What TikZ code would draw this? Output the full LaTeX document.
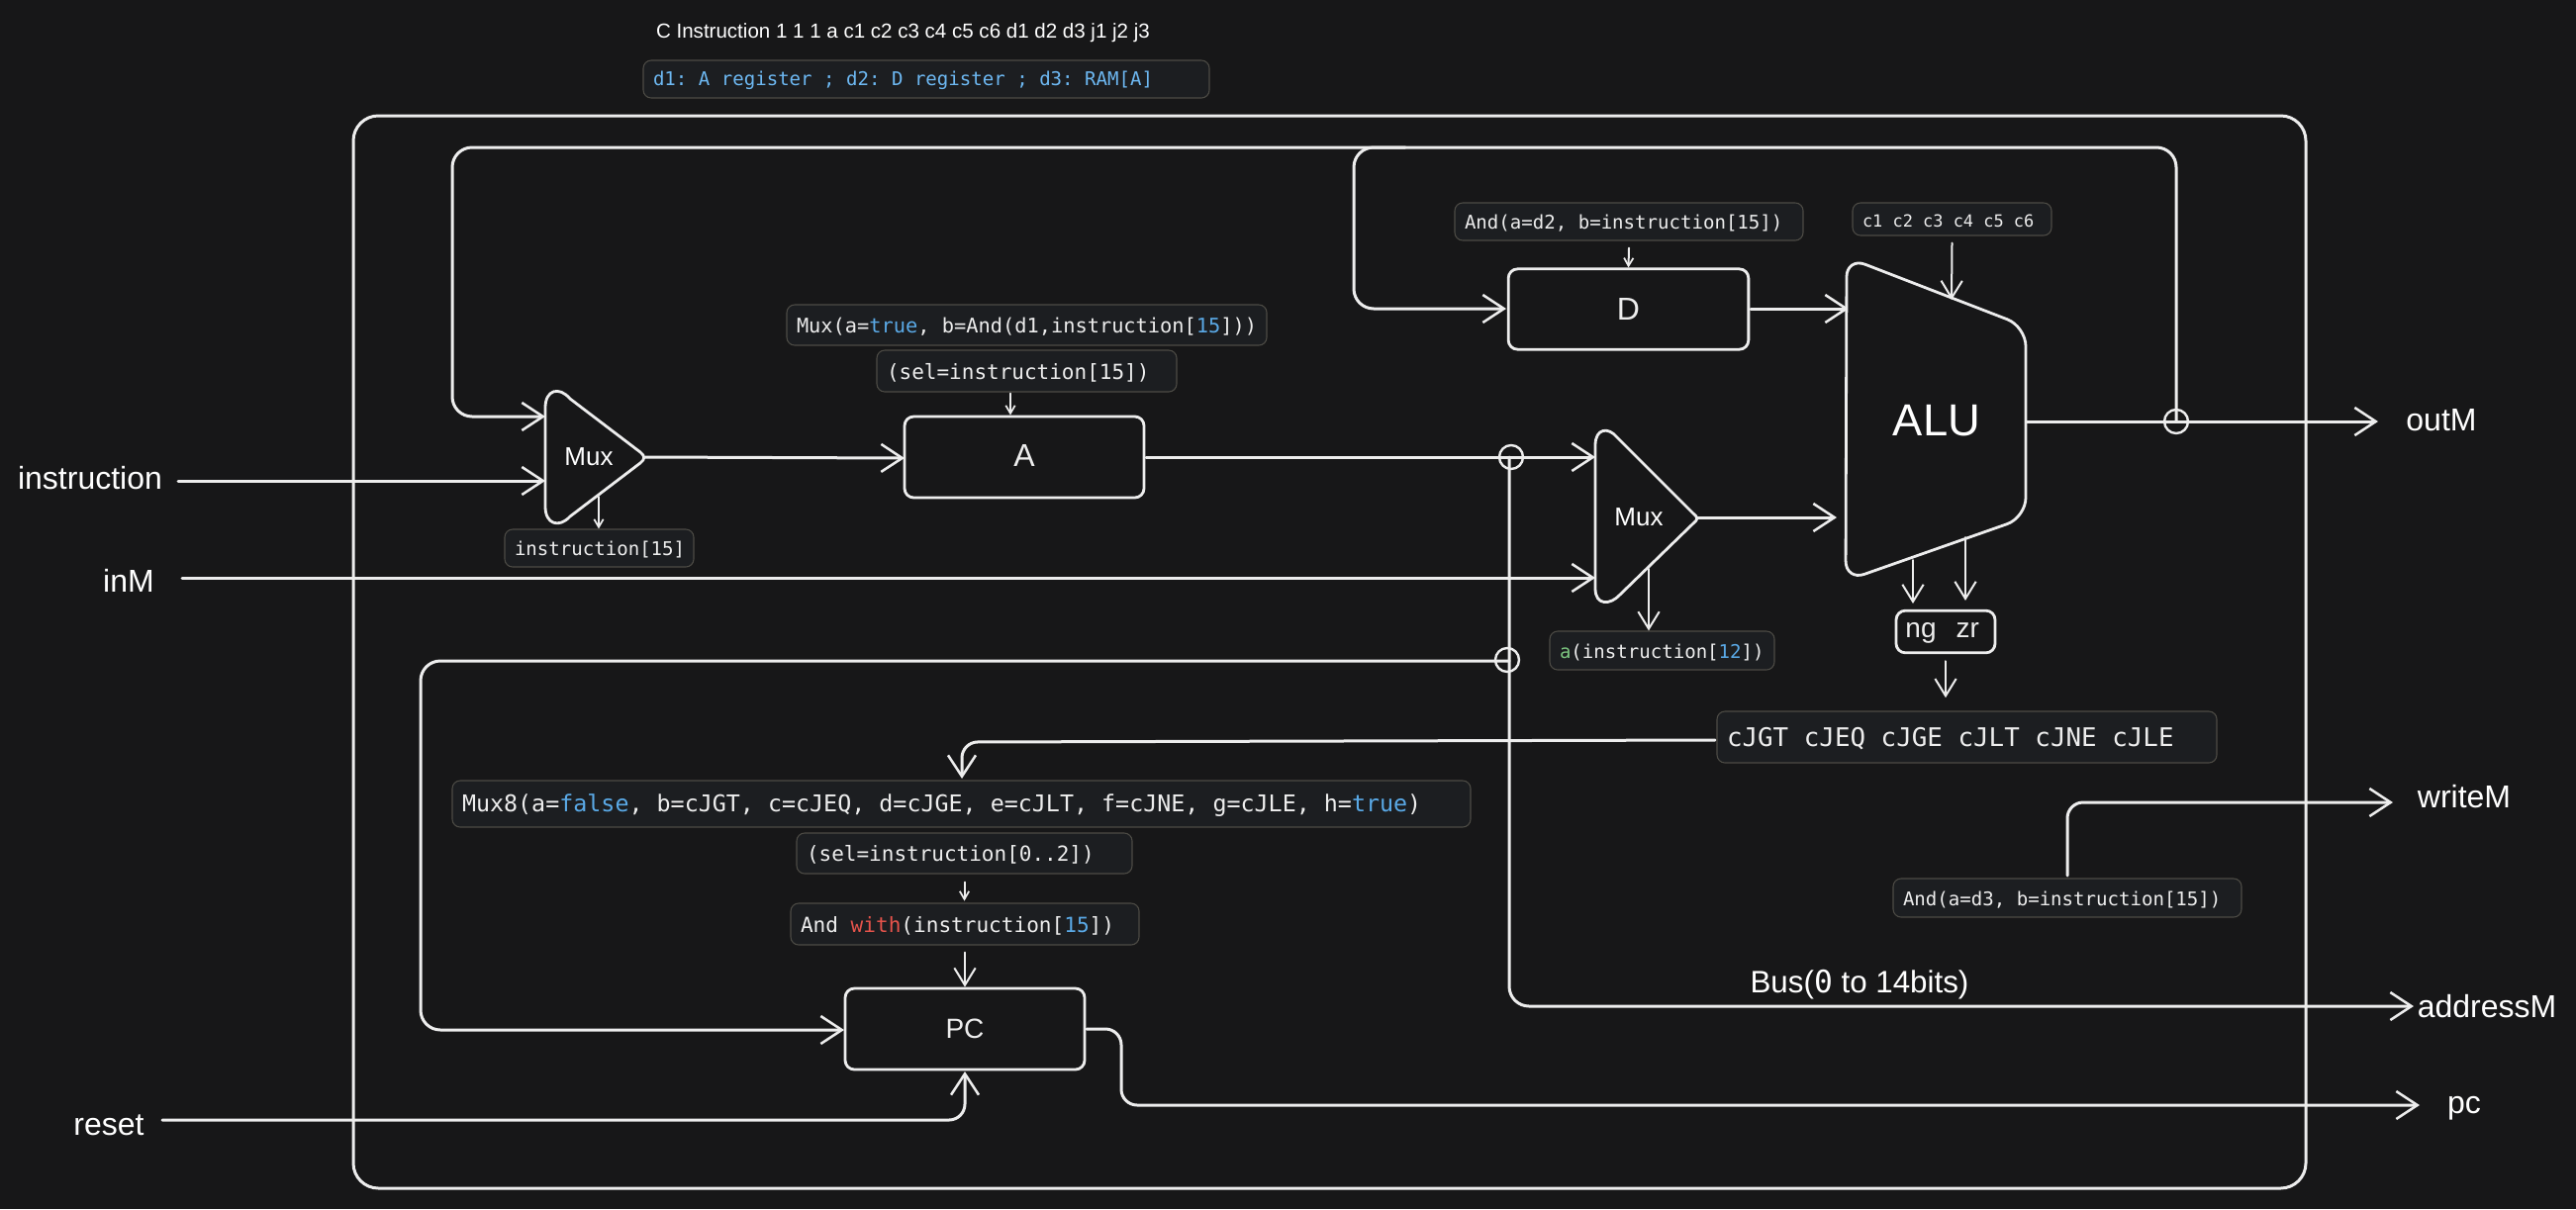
\documentclass[tikz,border=0pt]{standalone}
\usepackage{fontspec}
\setmainfont{Liberation Sans}
\setmonofont{DejaVu Sans Mono}
\usetikzlibrary{arrows.meta}
\definecolor{bg}{HTML}{171718}
\definecolor{ink}{HTML}{EDEDED}
\definecolor{notefill}{HTML}{1C1E21}
\definecolor{noteline}{HTML}{4D4B45}
\definecolor{kwblue}{HTML}{5AA9E6}
\definecolor{kwlight}{HTML}{6DB8F2}
\definecolor{kwred}{HTML}{E5534B}
\definecolor{kwgreen}{HTML}{7BC47F}
\newcommand\blu[1]{\textcolor{kwblue}{#1}}
\newcommand\notebox[7]{%
  \pgfmathsetmacro\nw{#4-#2}\pgfmathsetmacro\nh{#5-#3}%
  \pgfmathsetmacro\ncx{(#2+#4)/2}\pgfmathsetmacro\ncy{(#3+#5)/2}%
  \node[notenode,minimum width=\nw*0.75pt,minimum height=\nh*0.75pt,text width=(\nw-20)*0.75pt] (#1) at (\ncx,\ncy) {\raisebox{-1.2pt}[\height][\depth]{\ttfamily\fontsize{#6}{#6}\selectfont\spaceskip=0.602em\xspaceskip=0.602em\relax\textcolor{ink}{#7}}};}
\tikzset{
  wire/.style={draw=ink,line width=2.25pt,line cap=round,line join=round},
  thinw/.style={draw=ink,line width=1.5pt,line cap=round},
  bigtip/.style={-{Straight Barb[length=16pt,width=21pt,line width=1.9pt]}},
  midtip/.style={-{Straight Barb[length=13pt,width=16pt,line width=1.5pt]}},
  smalltip/.style={-{Straight Barb[length=6pt,width=7pt,line width=1.3pt]}},
  rbend/.style={rounded corners=15pt},
  notenode/.style={draw=noteline,fill=notefill,line width=0.8pt,rounded corners=6pt,inner sep=0pt,align=left},
  blocknode/.style={draw=ink,fill=bg,line width=2.1pt,rounded corners=7pt,inner sep=0pt,text=ink,align=center},
  gate/.style={draw=ink,fill=bg,line width=2.1pt,rounded corners=11pt,line join=round},
  plaingate/.style={draw=ink,fill=bg,line width=2.1pt,line join=round},
  lbl/.style={text=white,inner sep=0pt,font=\fontsize{24}{24}\selectfont},
  junction/.style={circle,draw=ink,line width=1.8pt,minimum size=18pt,inner sep=0pt},
}
\begin{document}
\begin{tikzpicture}[x=0.75pt,y=-0.75pt]
\fill[bg] (0,0) rectangle (2603,1222);
\useasboundingbox (0,0) rectangle (2603,1222);
% chip outline
\draw[wire,rounded corners=19pt] (357,117) rectangle (2330,1201);

% top captions
\node[text=white,inner sep=0pt,font=\fontsize{15.4}{16}\selectfont] (cinstr) at (912.5,33) {C Instruction 1 1 1 a c1 c2 c3 c4 c5 c6 d1 d2 d3 j1 j2 j3};
\notebox{dnote}{650}{61}{1222}{99}{14.3}{\textcolor{kwlight}{d1: A register ; d2: D register ; d3: RAM[A]}}

% named free ends and junctions
\coordinate (instrIn) at (180,486);
\coordinate (inMIn) at (184,584);
\coordinate (resetIn) at (164,1132);
\coordinate (mux1a) at (551,421);
\coordinate (mux1b) at (551,486);
\coordinate (mux1out) at (652,462);
\coordinate (mux1sel) at (605,502);
\coordinate (mux2a) at (1612,462);
\coordinate (mux2b) at (1612,584);
\coordinate (mux2out) at (1715,523);
\coordinate (mux2sel) at (1666,575);
\coordinate (aluD) at (1868,312);
\coordinate (aluM) at (1856,523);
\coordinate (aluOut) at (2047,426);
\coordinate (aluTop) at (1972,303);
\coordinate (aluNg) at (1933,566);
\coordinate (aluZr) at (1986,543);
\coordinate (outMEnd) at (2403,426);
\coordinate (writeEnd) at (2418,811);
\coordinate (addrEnd) at (2439,1017);
\coordinate (pcEnd) at (2445,1117);

% wires
\draw[wire,bigtip] (instrIn) -- (mux1b);
\draw[wire,bigtip] (inMIn) -- (mux2b);
\draw[wire,bigtip,rbend] (2199,426) -- (2199,149) -- (457,149) -- (457,421) -- (mux1a);
\draw[wire,bigtip,rbend] (1420,149) -- (1368,149) -- (1368,312) -- (1522,312);
\draw[wire,bigtip] (mux1out) -- (914,463);
\draw[wire,bigtip] (1158,462) -- (mux2a);
\draw[wire,bigtip] (1769,312) -- (aluD);
\draw[wire,bigtip] (mux2out) -- (aluM);
\draw[wire,bigtip] (aluOut) -- (outMEnd);
\draw[wire,bigtip,rbend] (1525,462) -- (1525,1017) -- (addrEnd);
\draw[wire,bigtip,rbend] (1525,668) -- (425,668) -- (425,1041) -- (853,1041);
\draw[wire,bigtip,rounded corners=12pt] (resetIn) -- (975,1132) -- (975,1083);
\draw[wire,bigtip,rounded corners=12pt] (1098,1040) -- (1133,1040) -- (1133,1117) -- (pcEnd);
\draw[wire,bigtip,rounded corners=12pt] (1733,748) -- (972,750) -- (972,787);
\draw[wire,bigtip,rounded corners=12pt] (2089,885) -- (2089,811) -- (writeEnd);

% gates
\draw[plaingate] (551,412) .. controls (551,394) and (565,390) .. (576,403) -- (647,457) .. controls (652,461) and (652,464) .. (647,468) -- (576,522) .. controls (565,534) and (551,530) .. (551,512) -- cycle;
\node[text=white,inner sep=0pt,font=\fontsize{19.5}{20}\selectfont] (mux1) at (595,462) {Mux};
\draw[plaingate] (1612,450) .. controls (1612,433) and (1625,431) .. (1634,442) -- (1711,519) .. controls (1716,523) and (1716,525) .. (1711,529) -- (1637,601) .. controls (1627,612) and (1612,612) .. (1612,595) -- cycle;
\node[text=white,inner sep=0pt,font=\fontsize{19.5}{20}\selectfont] (mux2) at (1656,523) {Mux};
\draw[gate,rounded corners=15pt] (1866,260) -- (2047,330) -- (2047,523) -- (1865,587) -- cycle;
\node[text=white,inner sep=0pt,font=\fontsize{34}{34}\selectfont] (alu) at (1957,425) {ALU};

% blocks
\node[blocknode,minimum width=181.5pt,minimum height=61.5pt,font=\fontsize{24}{24}\selectfont] (A) at (1035,462) {\raisebox{2pt}{A}};
\node[blocknode,minimum width=182pt,minimum height=61pt,font=\fontsize{24}{24}\selectfont] (D) at (1645.5,312.5) {D};
\node[blocknode,minimum width=181.5pt,minimum height=61.5pt,font=\fontsize{21}{21}\selectfont] (PC) at (975,1040) {PC};
\node[blocknode,minimum width=75pt,minimum height=32pt,font=\fontsize{21}{21}\selectfont] (ngzr) at (1966,638.5) {\hspace*{-5pt}\raisebox{-1pt}[\height][\depth]{ng\hspace{15pt}zr}};

% notes
\notebox{muxA}{795}{308}{1280}{349}{15.25}{Mux(a=\blu{true}, b=And(d1,instruction[\blu{15}]))}
\notebox{selA}{886}{354}{1189}{396}{15.75}{(sel=instruction[15])}
\notebox{selM}{510}{535}{701}{573}{14.3}{instruction[15]}
\notebox{andD}{1470}{205}{1822}{243}{14.3}{And(a=d2, b=instruction[15])}
\notebox{ctrl}{1872}{205}{2073}{238}{12.7}{c1 c2 c3 c4 c5 c6}
\notebox{aNote}{1566}{638}{1793}{677}{14.3}{\textcolor{kwgreen}{a}(instruction[\blu{12}])}
\notebox{jumps}{1735}{719}{2240}{771}{19.4}{cJGT cJEQ cJGE cJLT cJNE cJLE}
\notebox{mux8}{457}{789}{1486}{836}{17.5}{Mux8(a=\blu{false}, b=cJGT, c=cJEQ, d=cJGE, e=cJLT, f=cJNE, g=cJLE, h=\blu{true})}
\notebox{selJ}{805}{842}{1144}{883}{15.75}{(sel=instruction[0..2])}
\notebox{andPC}{799}{913}{1151}{955}{15.8}{And \textcolor{kwred}{with}(instruction[\blu{15}])}
\notebox{andW}{1913}{888}{2265}{927}{14.3}{And(a=d3, b=instruction[15])}

% small connectors
\draw[thinw,smalltip] (mux1sel) -- (selM.north -| mux1sel);
\draw[thinw,smalltip] (selA.south -| A.north) ++(-14,1) -- ++(0,22);
\draw[thinw,smalltip] (andD.south) ++(0,7) -- (D.north);
\draw[thinw,midtip] (ctrl.south) ++(0,7) -- (aluTop);
\draw[thinw,midtip] (mux2sel) -- (aNote.north -| mux2sel);
\draw[thinw,midtip] (aluNg) -- (1933,610);
\draw[thinw,midtip] (aluZr) -- (1986,607);
\draw[thinw,midtip] (ngzr.south) ++(0,7) -- ++(0,37);
\draw[thinw,smalltip] (selJ.south) ++(0,8) -- ++(0,19);
\draw[thinw,midtip] (andPC.south) ++(0,7) -- (PC.north);

% junctions
\node[junction] (jOut) at (2199,426) {};
\node[junction] (jBus) at (1527,462) {};
\node[junction] (jPC) at (1523,667) {};

% labels
\node[lbl] (instruction) at (91,483) {instruction};
\node[lbl] (inM) at (130,587) {inM};
\node[lbl] (reset) at (110,1137) {reset};
\node[lbl] (outM) at (2467,425) {outM};
\node[lbl] (writeM) at (2490,805) {writeM};
\node[lbl] (addressM) at (2513,1017) {addressM};
\node[lbl] (pc) at (2490,1120) {pc};
\node[lbl,font=\fontsize{23.5}{24}\selectfont] (bus) at (1879,995) {Bus({\ttfamily 0} to 14bits)};
\end{tikzpicture}
\end{document}
